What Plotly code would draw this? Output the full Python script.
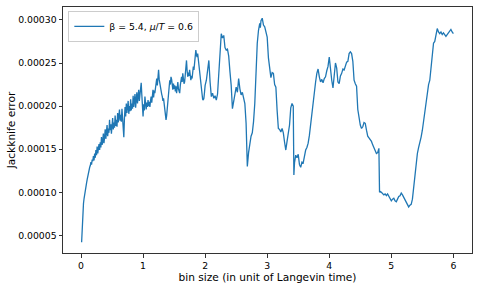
import plotly.graph_objects as go

# bin size (Langevin time units)
bin_size = [
    0.01, 0.02, 0.03, 0.04, 0.05, 0.06, 0.07, 0.08, 0.09, 0.10,
    0.11, 0.12, 0.13, 0.14, 0.15, 0.16, 0.17, 0.18, 0.19, 0.20,
    0.21, 0.22, 0.23, 0.24, 0.25, 0.26, 0.27, 0.28, 0.29, 0.30,
    0.31, 0.32, 0.33, 0.34, 0.35, 0.36, 0.37, 0.38, 0.39, 0.40,
    0.41, 0.42, 0.43, 0.44, 0.45, 0.46, 0.47, 0.48, 0.49, 0.50,
    0.51, 0.52, 0.53, 0.54, 0.55, 0.56, 0.57, 0.58, 0.59, 0.60,
    0.61, 0.62, 0.63, 0.64, 0.65, 0.66, 0.67, 0.68, 0.69, 0.70,
    0.71, 0.72, 0.73, 0.74, 0.75, 0.76, 0.77, 0.78, 0.79, 0.80,
    0.81, 0.82, 0.83, 0.84, 0.85, 0.86, 0.87, 0.88, 0.89, 0.90,
    0.91, 0.92, 0.93, 0.94, 0.95, 0.96, 0.97, 0.98, 0.99, 1.00,
    1.01, 1.02, 1.03, 1.04, 1.05, 1.06, 1.07, 1.08, 1.09, 1.10,
    1.11, 1.12, 1.13, 1.14, 1.15, 1.16, 1.17, 1.18, 1.19, 1.20,
    1.21, 1.22, 1.23, 1.24, 1.25, 1.26, 1.27, 1.28, 1.29, 1.30,
    1.31, 1.32, 1.33, 1.34, 1.35, 1.36, 1.37, 1.38, 1.39, 1.40,
    1.41, 1.42, 1.43, 1.44, 1.45, 1.46, 1.47, 1.48, 1.49, 1.50,
    1.51, 1.52, 1.53, 1.54, 1.55, 1.56, 1.57, 1.58, 1.59, 1.60,
    1.61, 1.62, 1.63, 1.64, 1.65, 1.66, 1.67, 1.68, 1.69, 1.70,
    1.71, 1.72, 1.73, 1.74, 1.75, 1.76, 1.77, 1.78, 1.79, 1.80,
    1.81, 1.82, 1.83, 1.84, 1.85, 1.86, 1.87, 1.88, 1.89, 1.90,
    1.91, 1.92, 1.93, 1.94, 1.95, 1.96, 1.97, 1.98, 1.99, 2.00,
    2.02, 2.04, 2.06, 2.08, 2.10, 2.12, 2.14, 2.16, 2.18, 2.20,
    2.22, 2.24, 2.26, 2.28, 2.30, 2.32, 2.34, 2.36, 2.38, 2.40,
    2.42, 2.44, 2.46, 2.48, 2.50, 2.52, 2.54, 2.56, 2.58, 2.60,
    2.62, 2.64, 2.66, 2.68, 2.70, 2.72, 2.74, 2.76, 2.78, 2.80,
    2.82, 2.84, 2.86, 2.88, 2.89, 2.90, 2.92, 2.94, 2.96, 2.98,
    3.00, 3.02, 3.04, 3.06, 3.08, 3.10, 3.12, 3.14, 3.16, 3.18,
    3.20, 3.22, 3.24, 3.26, 3.28, 3.30, 3.32, 3.34, 3.36, 3.38,
    3.40, 3.42, 3.43, 3.44, 3.46, 3.48, 3.50, 3.52, 3.54, 3.56,
    3.58, 3.60, 3.62, 3.64, 3.66, 3.68, 3.70, 3.72, 3.74, 3.76,
    3.78, 3.80, 3.82, 3.84, 3.86, 3.88, 3.90, 3.92, 3.94, 3.96,
    3.98, 4.00, 4.02, 4.04, 4.06, 4.08, 4.10, 4.12, 4.14, 4.16,
    4.18, 4.20, 4.22, 4.24, 4.26, 4.28, 4.30, 4.32, 4.34, 4.36,
    4.38, 4.40, 4.42, 4.44, 4.46, 4.48, 4.50, 4.52, 4.54, 4.56,
    4.58, 4.60, 4.62, 4.64, 4.66, 4.68, 4.70, 4.72, 4.74, 4.76,
    4.78, 4.80, 4.81, 4.82, 4.84, 4.86, 4.88, 4.90, 4.92, 4.94,
    4.96, 4.98, 5.00, 5.02, 5.04, 5.06, 5.08, 5.10, 5.12, 5.14,
    5.16, 5.18, 5.20, 5.22, 5.24, 5.26, 5.28, 5.30, 5.32, 5.34,
    5.36, 5.38, 5.40, 5.42, 5.44, 5.46, 5.48, 5.50, 5.52, 5.54,
    5.56, 5.58, 5.60, 5.62, 5.64, 5.66, 5.68, 5.70, 5.72, 5.74,
    5.76, 5.78, 5.80, 5.82, 5.84, 5.86, 5.88, 5.90, 5.92, 5.94,
    5.96, 5.98, 6.00,
]

# Jackknife error in units of 1e-5
error_e5 = [
    4.2, 6.5, 7.8, 8.7, 9.3, 9.9, 10.4, 10.8, 11.1, 11.5,
    12.0, 12.3, 12.6, 12.9, 13.1, 13.5, 13.2, 13.8, 13.6, 14.2,
    13.7, 14.5, 14.0, 14.9, 14.3, 15.3, 14.5, 15.0, 15.6, 14.9,
    15.8, 15.2, 16.4, 15.5, 15.9, 16.8, 15.7, 16.4, 17.3, 16.2,
    16.9, 17.8, 16.5, 17.4, 16.9, 18.4, 17.2, 17.9, 16.8, 17.6,
    18.6, 17.3, 18.1, 17.5, 18.9, 17.7, 18.4, 17.6, 19.2, 18.1,
    18.7, 19.6, 18.3, 19.0, 18.2, 19.7, 18.6, 17.4, 16.4, 18.6,
    19.9, 18.8, 20.3, 19.2, 19.7, 20.6, 19.1, 20.0, 19.4, 20.8,
    19.5, 20.3, 19.7, 21.2, 19.9, 20.5, 21.4, 19.8, 20.7, 21.6,
    20.3, 21.0, 21.9, 20.6, 21.5, 22.1, 22.7, 21.3, 19.8, 18.8,
    20.2, 19.5, 21.1, 20.3, 19.6, 20.4, 19.9, 20.7, 20.0, 20.5,
    19.9, 20.6, 21.1, 20.4, 21.4, 21.9, 21.0, 21.8, 21.5, 22.3,
    22.9, 23.2, 22.4, 23.5, 24.2, 23.1, 22.5, 22.6, 21.8, 21.4,
    21.1, 20.6, 20.9, 20.1, 19.9, 19.2, 18.4, 18.9, 19.6, 20.3,
    21.4, 22.2, 23.0, 22.5, 23.4, 23.1, 22.4, 21.9, 22.6, 22.0,
    22.4, 21.7, 22.3, 21.5, 22.1, 22.8, 22.0, 21.8, 21.5, 22.4,
    22.9, 23.4, 22.8, 23.8, 23.2, 22.6, 22.8, 23.6, 24.5, 25.3,
    24.1, 23.4, 23.9, 23.5, 24.2, 23.7, 23.0, 23.5, 23.2, 23.9,
    24.6, 24.2, 25.2, 25.9, 26.5, 26.0, 25.7, 26.1, 25.4, 25.0,
    24.3, 23.6, 22.9, 22.3, 21.5, 20.8, 20.7, 20.9, 21.6, 22.4,
    23.0, 24.6, 25.3, 22.8, 21.1, 21.5, 20.9, 21.2, 20.7, 21.4,
    23.8, 26.0, 28.4, 27.9, 28.2, 26.8, 26.5, 26.6, 25.8, 24.0,
    22.4, 19.7, 20.5, 21.3, 22.2, 21.6, 23.2, 22.0, 21.3, 21.6,
    21.1, 20.3, 18.0, 13.0, 14.6, 15.7, 16.5, 16.9, 18.2, 20.3,
    24.0, 27.3, 28.8, 29.6, 29.1, 29.9, 30.2, 29.4, 29.2, 28.7,
    28.0, 25.6, 24.0, 23.3, 23.9, 23.8, 22.5, 22.2, 19.5, 17.4,
    17.3, 17.0, 17.4, 16.9, 15.8, 14.9, 15.9, 16.9, 17.8, 19.8,
    20.3, 20.0, 12.0, 13.4, 14.3, 14.0, 14.4, 13.2, 12.9, 13.5,
    13.4, 14.3, 14.9, 15.2, 15.7, 16.6, 17.9, 19.0, 20.3, 22.0,
    22.8, 23.8, 24.3, 23.4, 22.8, 23.1, 22.7, 23.2, 23.4, 24.1,
    24.6, 25.7, 24.2, 23.0, 22.1, 23.6, 25.0, 24.4, 22.8, 22.6,
    23.5, 23.8, 24.3, 24.2, 24.6, 25.1, 25.2, 26.1, 26.3, 26.1,
    25.2, 23.0, 22.6, 22.3, 19.6, 18.6, 17.8, 17.4, 17.6, 18.1,
    18.0, 17.2, 16.5, 16.3, 16.1, 15.9, 15.5, 15.2, 14.9, 14.5,
    14.6, 15.1, 10.0, 10.1, 10.0, 9.8, 9.7, 9.8, 9.6, 9.8,
    9.5, 9.3, 9.0, 9.2, 9.3, 9.0, 8.9, 9.2, 9.5, 9.6,
    9.9, 9.7, 9.4, 9.3, 9.0, 8.7, 8.3, 8.5, 8.6, 9.2,
    10.5, 11.9, 13.4, 14.5, 15.2, 15.7, 16.4, 17.2, 18.4, 19.6,
    20.6, 21.3, 22.5, 23.0, 24.2, 26.1, 27.3, 27.5, 28.2, 29.0,
    28.6, 28.4, 28.6, 28.3, 28.5, 28.2, 28.1, 28.3, 28.5, 28.6,
    28.9, 28.6, 28.4,
]

jackknife_error = [v * 1e-5 for v in error_e5]

x_ticks = [0, 1, 2, 3, 4, 5, 6]
y_ticks = [0.00005, 0.00010, 0.00015, 0.00020, 0.00025, 0.00030]

fig = go.Figure()
fig.add_trace(go.Scatter(
    x=bin_size, y=jackknife_error, mode="lines",
    line=dict(color="#1f77b4", width=1.3),
    name="β = 5.4, <i>μ</i>/<i>T</i> = 0.6",
))

axis_common = dict(
    showline=True, linecolor="#333333", linewidth=1, mirror=True,
    ticks="outside", ticklen=3.5, tickwidth=0.8, tickcolor="#333333",
    showgrid=False, zeroline=False, automargin=False,
    tickfont=dict(family="DejaVu Sans", size=9.3, color="black"),
)

fig.update_layout(
    width=480, height=288,
    margin=dict(l=63, r=8, t=7, b=35),
    paper_bgcolor="white", plot_bgcolor="white",
    font=dict(family="DejaVu Sans", color="black"),
    xaxis=dict(
        range=[-0.29, 6.30], tickvals=x_ticks,
        title=dict(text="bin size (in unit of Langevin time)",
                   font=dict(size=10.6), standoff=3),
        **axis_common,
    ),
    yaxis=dict(
        range=[0.0000295, 0.0003150], tickvals=y_ticks, tickformat=".5f",
        title=dict(text="Jackknife error", font=dict(size=10.6), standoff=0),
        **axis_common,
    ),
    showlegend=True,
    legend=dict(
        x=0.013, y=0.984, xanchor="left", yanchor="top",
        bgcolor="rgba(255,255,255,0.8)", bordercolor="#cccccc", borderwidth=1,
        font=dict(family="DejaVu Sans", size=9.3, color="black"),
        itemwidth=30, tracegroupgap=0,
    ),
)

fig.write_html(
    "out.html",
    config={"displayModeBar": False},
    post_script="document.body.style.margin='0';document.body.style.padding='0';",
)
